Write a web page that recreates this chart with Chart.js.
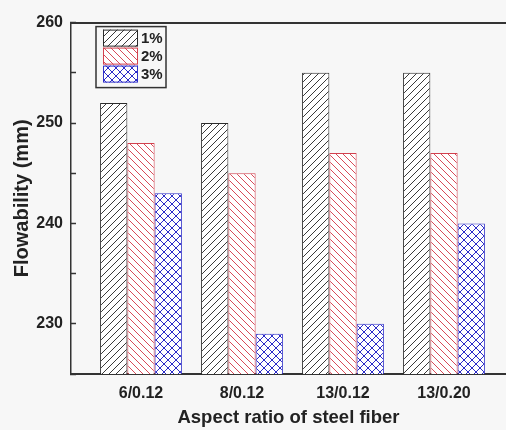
<!DOCTYPE html>
<html>
<head>
<meta charset="utf-8">
<script src="https://cdn.jsdelivr.net/npm/chart.js@4.4.1/dist/chart.umd.min.js"></script>
<style>
  html, body { margin: 0; padding: 0; background: #f7f7f7; overflow: hidden; }
  #wrap { width: 506px; height: 430px; }
</style>
</head>
<body>
<div id="wrap"><canvas id="flow-chart"></canvas></div>
<script>
var categories = ['6/0.12', '8/0.12', '13/0.12', '13/0.20'];
var seriesLabels = ['1%', '2%', '3%'];
var fiber1 = [252, 250, 255, 255];
var fiber2 = [248, 245, 247, 247];
var fiber3 = [243, 229, 230, 240];

var fontFamily = '"Liberation Sans", Arial, sans-serif';

// hatch tiles: '/' for 1%, '\' for 2%, crosshatch for 3%
function makePattern(kind, color, size) {
    var c = document.createElement('canvas');
    c.width = size;
    c.height = size;
    var g = c.getContext('2d');
    g.fillStyle = '#ffffff';
    g.fillRect(0, 0, size, size);
    g.strokeStyle = color;
    g.lineWidth = 1;
    g.beginPath();
    if (kind === 'fwd' || kind === 'cross') {
        g.moveTo(-1, size + 1); g.lineTo(size + 1, -1);
        g.moveTo(-1, 1); g.lineTo(1, -1);
        g.moveTo(size - 1, size + 1); g.lineTo(size + 1, size - 1);
    }
    if (kind === 'back' || kind === 'cross') {
        g.moveTo(-1, -1); g.lineTo(size + 1, size + 1);
        g.moveTo(size - 1, -1); g.lineTo(size + 1, 1);
        g.moveTo(-1, size - 1); g.lineTo(1, size + 1);
    }
    g.stroke();
    return g.createPattern(c, 'repeat');
}

var ctx = document.getElementById('flow-chart').getContext('2d');

var fills = [
    makePattern('fwd', '#3a3a3a', 7),
    makePattern('back', '#d84a58', 7),
    makePattern('cross', '#2a2ac8', 8)
];
var borders = ['#2b2b2b', '#d2404e', '#3030c8'];

function toPoints(values) {
    return values.map((v, i) => ({ x: i, y: v }));
}

var frameLegend = {
    id: 'frameLegend',
    afterDatasetsDraw(chart) {
        var area = chart.chartArea;
        var c = chart.ctx;
        var left = area.left + 25;
        var top = area.top + 4;
        var rowH = 18;
        c.save();
        c.lineWidth = 1.5;
        c.strokeStyle = '#333';
        c.strokeRect(left, top, 70, 61);
        chart.data.datasets.forEach((ds, i) => {
            var y = top + 3 + i * rowH;
            c.fillStyle = ds.backgroundColor;
            c.fillRect(left + 7, y, 35, 17);
            c.lineWidth = 1;
            c.strokeStyle = ds.borderColor;
            c.strokeRect(left + 7.5, y + 0.5, 34, 16);
            c.fillStyle = '#222';
            c.font = 'bold 15px ' + fontFamily;
            c.textBaseline = 'middle';
            c.fillText(ds.label, left + 45, y + 9);
        });
        c.restore();
    }
};

var chart = new Chart(ctx, {
    type: 'bar',
    data: {
        datasets: [fiber1, fiber2, fiber3].map((vals, i) => ({
            label: seriesLabels[i],
            data: toPoints(vals),
            backgroundColor: fills[i],
            borderColor: borders[i],
            borderWidth: 1,
            categoryPercentage: 0.81,
            barPercentage: 1
        }))
    },
    options: {
        responsive: true,
        maintainAspectRatio: false,
        animation: false,
        layout: { padding: { top: 15, right: 0, left: 0, bottom: 0 } },
        plugins: {
            legend: { display: false },
            tooltip: { enabled: false }
        },
        scales: {
            x: {
                type: 'linear',
                offset: false,
                min: -0.693,
                max: 3.614,
                afterBuildTicks: (axis) => {
                    axis.ticks = categories.map((c, i) => ({ value: i }));
                },
                afterFit: (axis) => { axis.height = 56; },
                grid: { display: false },
                border: { display: true, color: '#333', width: 2 },
                ticks: {
                    autoSkip: false,
                    maxRotation: 0,
                    padding: 2,
                    color: '#222',
                    font: { family: fontFamily, size: 16, weight: 'bold' },
                    callback: (v) => categories[v]
                },
                title: {
                    display: true,
                    text: 'Aspect ratio of steel fiber',
                    color: '#222',
                    padding: { top: 0, bottom: 1 },
                    font: { family: fontFamily, size: 18.5, weight: 'bold' }
                }
            },
            xTop: {
                type: 'linear',
                position: 'top',
                afterFit: (axis) => { axis.height = 0; },
                grid: { display: false },
                ticks: { display: false },
                border: { display: true, color: '#333', width: 2 }
            },
            y: {
                min: 225,
                max: 260,
                afterFit: (axis) => { axis.width = 71; },
                grid: {
                    drawOnChartArea: false,
                    drawTicks: true,
                    tickLength: -5,
                    tickColor: '#333',
                    tickWidth: 1.5
                },
                border: { display: true, color: '#333', width: 1.5 },
                ticks: {
                    stepSize: 5,
                    padding: 13,
                    color: '#222',
                    font: { family: fontFamily, size: 16, weight: 'bold' },
                    callback: (v) => (v % 10 === 0 ? v : '')
                },
                title: {
                    display: true,
                    text: 'Flowability (mm)',
                    color: '#222',
                    padding: { top: 10, bottom: 0 },
                    font: { family: fontFamily, size: 20, weight: 'bold' }
                }
            }
        }
    },
    plugins: [frameLegend]
});
</script>
</body>
</html>
